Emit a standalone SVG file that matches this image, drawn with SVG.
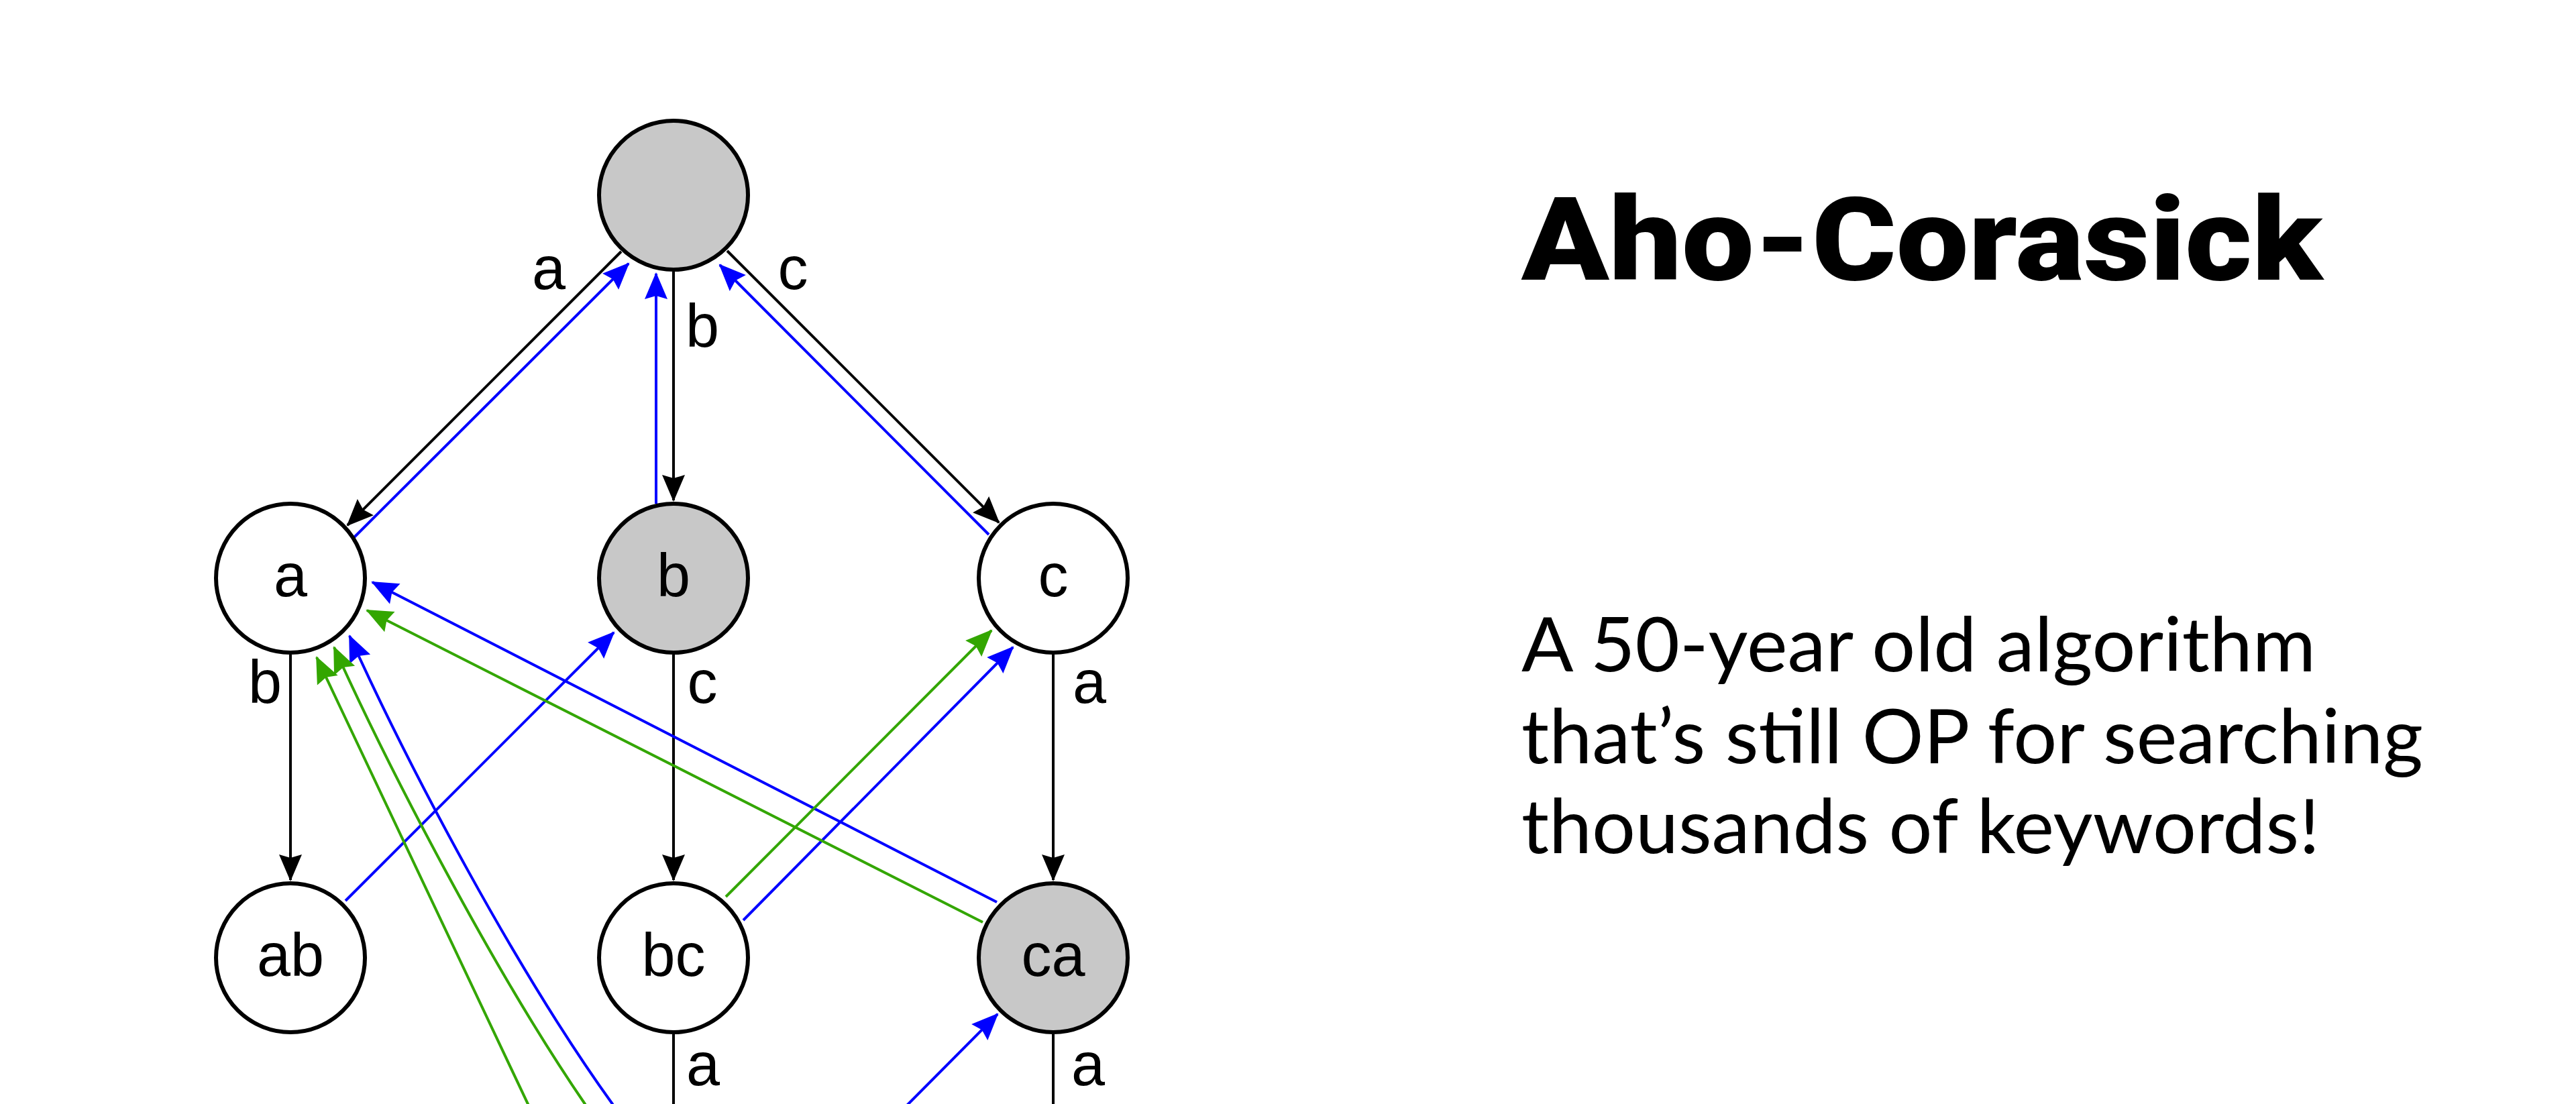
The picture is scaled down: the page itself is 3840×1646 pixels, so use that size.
<svg xmlns="http://www.w3.org/2000/svg" width="3840" height="1646" viewBox="0 0 3840 1646">
<style>
.node{stroke:#000;stroke-width:6}
.w{fill:#fff}
.g{fill:#c8c8c8}
.nl{font-family:"Liberation Sans",Arial,sans-serif;font-size:90px;text-anchor:middle;fill:#000}
.el{font-family:"Liberation Sans",Arial,sans-serif;font-size:90px;text-anchor:middle;fill:#000}
.k{stroke:#000;stroke-width:4;fill:none;marker-end:url(#ak)}
.bl{stroke:#0000ff;stroke-width:4;fill:none;marker-end:url(#ab)}
.gr{stroke:#33a600;stroke-width:4;fill:none;marker-end:url(#ag)}
.title{font-family:Roboto,Inter,"Liberation Sans",sans-serif;font-weight:900;font-size:172px;fill:#000}
.body{font-family:Lato,"Open Sans","Liberation Sans",sans-serif;font-size:112px;fill:#000}
</style>
<defs>
<marker id="ak" markerUnits="userSpaceOnUse" viewBox="-44 -20 48 40" markerWidth="48" markerHeight="40" refX="0" refY="0" orient="auto"><path d="M2,0 L-38,-17 L-33,0 L-38,17 Z" fill="#000"/></marker>
<marker id="ab" markerUnits="userSpaceOnUse" viewBox="-44 -20 48 40" markerWidth="48" markerHeight="40" refX="0" refY="0" orient="auto"><path d="M2,0 L-38,-17 L-33,0 L-38,17 Z" fill="#0000ff"/></marker>
<marker id="ag" markerUnits="userSpaceOnUse" viewBox="-44 -20 48 40" markerWidth="48" markerHeight="40" refX="0" refY="0" orient="auto"><path d="M2,0 L-38,-17 L-33,0 L-38,17 Z" fill="#33a600"/></marker>
</defs>
<rect width="3840" height="1646" fill="#fff"/>
<g id="connectors">
<path class="k" d="M926,375 L518,783"/>
<path class="k" d="M1004,405 L1004,746"/>
<path class="k" d="M1084,374 L1489,779"/>
<path class="k" d="M433,976 L433,1312"/>
<path class="k" d="M1004,976 L1004,1312"/>
<path class="k" d="M1570,976 L1570,1312"/>
<path d="M1004,1542 L1004,1660" stroke="#000" stroke-width="4" fill="none"/>
<path d="M1570,1542 L1570,1660" stroke="#000" stroke-width="4" fill="none"/>
<path class="bl" d="M528,801 L937,393"/>
<path class="bl" d="M978,751 L978,408"/>
<path class="bl" d="M1474,797 L1073,395"/>
<path class="bl" d="M515,1343 L915,943"/>
<path class="bl" d="M1486,1345 L555,868"/>
<path class="bl" d="M1108,1372 L1510,965"/>
<path class="bl" d="M1338,1662 L1487,1512"/>
<path class="bl" d="M921,1659 L913,1646 C769,1446 610,1145 521,948"/>
<path class="gr" d="M1465,1375 L547,910"/>
<path class="gr" d="M1082,1337 L1478,940"/>
<path class="gr" d="M795,1663 L472,980"/>
<path class="gr" d="M880,1660 L872,1646 C735,1446 579,1145 498,965"/>
<text class="el" x="818" y="431">a</text>
<text class="el" x="1182" y="431">c</text>
<text class="el" x="1047" y="517">b</text>
<text class="el" x="395" y="1048">b</text>
<text class="el" x="1047" y="1048">c</text>
<text class="el" x="1624" y="1048">a</text>
<text class="el" x="1048" y="1618">a</text>
<text class="el" x="1622" y="1618">a</text>
</g>
<g id="node-root"><circle class="node g" cx="1004" cy="291" r="111"/></g>
<g id="node-a"><circle class="node w" cx="433" cy="862" r="111"/><text class="nl" x="433" y="889">a</text></g>
<g id="node-b"><circle class="node g" cx="1004" cy="862" r="111"/><text class="nl" x="1004" y="889">b</text></g>
<g id="node-c"><circle class="node w" cx="1570" cy="862" r="111"/><text class="nl" x="1570" y="889">c</text></g>
<g id="node-ab"><circle class="node w" cx="433" cy="1428" r="111"/><text class="nl" x="433" y="1455">ab</text></g>
<g id="node-bc"><circle class="node w" cx="1004" cy="1428" r="111"/><text class="nl" x="1004" y="1455">bc</text></g>
<g id="node-ca"><circle class="node g" cx="1570" cy="1428" r="111"/><text class="nl" x="1570" y="1455">ca</text></g>
<g id="title">
<text class="title" x="2268" y="417" textLength="1194" lengthAdjust="spacingAndGlyphs">Aho-Corasick</text>
</g>
<g id="description">
<text class="body" x="2268" y="1001" textLength="1184" lengthAdjust="spacingAndGlyphs">A 50-year old algorithm</text>
<text class="body" x="2268" y="1138" textLength="1344" lengthAdjust="spacingAndGlyphs">that’s still OP for searching</text>
<text class="body" x="2268" y="1272" textLength="1190" lengthAdjust="spacingAndGlyphs">thousands of keywords!</text>
</g>
</svg>
